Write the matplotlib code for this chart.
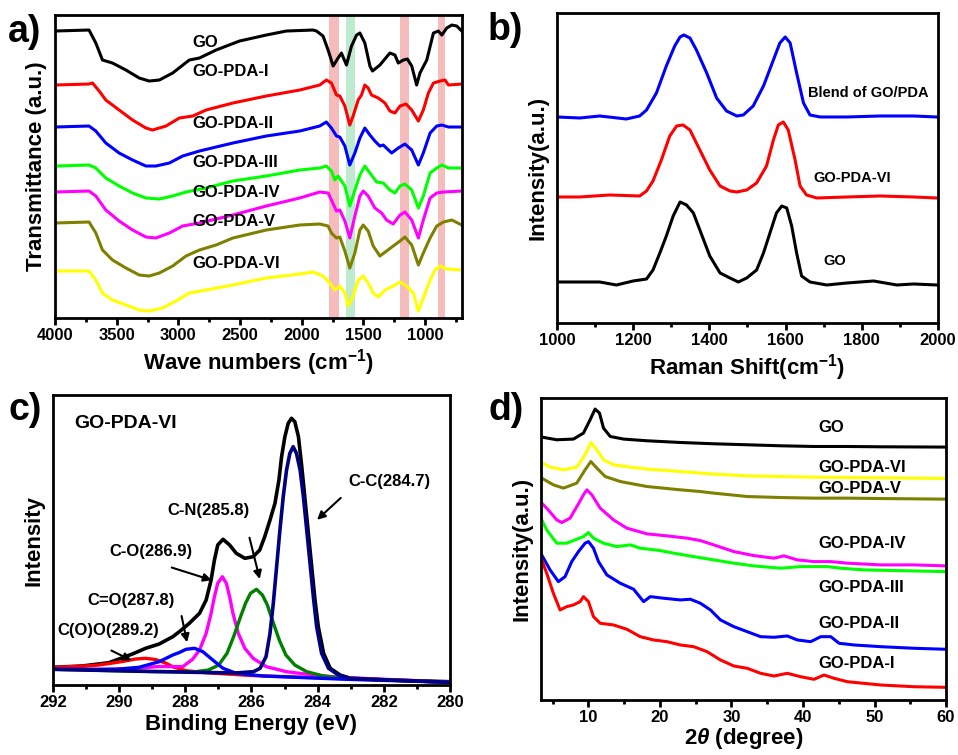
import numpy as np
import matplotlib
matplotlib.use('Agg')
import matplotlib.pyplot as plt
from matplotlib.ticker import MultipleLocator

plt.rcParams['font.family'] = ['Liberation Sans', 'DejaVu Sans']
plt.rcParams['font.weight'] = 'bold'
plt.rcParams['axes.labelweight'] = 'bold'
plt.rcParams['mathtext.fontset'] = 'custom'
plt.rcParams['mathtext.rm'] = 'Liberation Sans:bold'
plt.rcParams['mathtext.bf'] = 'Liberation Sans:bold'
plt.rcParams['mathtext.it'] = 'Liberation Sans:italic:bold'

# ---------------- a) FTIR ----------------
ftir_names = ['GO', 'GO-PDA-I', 'GO-PDA-II', 'GO-PDA-III', 'GO-PDA-IV', 'GO-PDA-V', 'GO-PDA-VI']
ftir_colors = ['black', 'red', 'blue', '#00ff00', '#ff00ff', '#808000', '#ffff00']

ftir_go_x = [4000, 3724, 3669, 3615, 3534, 3425, 3317, 3236, 3154, 3046, 2911, 2829, 2694, 2504, 2287, 2125,
             1908, 1880, 1827, 1786, 1745, 1705, 1678, 1637, 1596, 1555, 1528, 1488, 1447, 1426, 1366, 1285,
             1244, 1217, 1176, 1143, 1108, 1068, 1041, 986, 932, 892, 864, 824, 783, 743, 702]
ftir_go_y = [287, 288, 275, 258, 255, 248, 240, 237, 238, 245, 258, 260, 268, 277, 283, 287,
             288, 287, 282, 268, 252, 260, 265, 253, 272, 283, 285, 275, 252, 247, 253, 265,
             263, 255, 258, 259, 252, 233, 245, 258, 285, 287, 283, 290, 293, 292, 287]

ftir_1_x = [4000, 3724, 3696, 3642, 3588, 3480, 3371, 3263, 3209, 3100, 2992, 2883, 2775, 2558, 2287, 2016,
            1854, 1800, 1759, 1718, 1691, 1650, 1610, 1583, 1542, 1515, 1488, 1461, 1434, 1379, 1325, 1285,
            1244, 1203, 1154, 1108, 1054, 1014, 973, 932, 878, 838, 810, 702]
ftir_1_y = [233, 234, 235, 227, 218, 208, 198, 190, 188, 192, 200, 202, 208, 215, 222, 228,
            233, 238, 235, 223, 222, 212, 193, 202, 218, 223, 233, 230, 223, 220, 215, 207,
            205, 212, 214, 208, 197, 208, 225, 235, 237, 238, 233, 234]

ftir_2_x = [4000, 3724, 3669, 3588, 3480, 3371, 3263, 3182, 3073, 2965, 2829, 2558, 2287, 2016, 1854, 1800,
            1759, 1718, 1691, 1650, 1610, 1569, 1528, 1488, 1447, 1407, 1366, 1339, 1271, 1217, 1163, 1108,
            1054, 1014, 959, 905, 864, 810, 702]
ftir_2_y = [191, 192, 187, 175, 165, 158, 152, 152, 155, 162, 167, 175, 182, 187, 192, 196,
            190, 182, 181, 172, 153, 165, 180, 190, 183, 177, 172, 173, 165, 170, 174, 168,
            153, 165, 185, 192, 193, 191, 191]

ftir_3_x = [4000, 3724, 3669, 3588, 3480, 3371, 3263, 3154, 3046, 2938, 2775, 2558, 2287, 2016, 1854, 1800,
            1759, 1732, 1705, 1650, 1610, 1569, 1528, 1488, 1447, 1393, 1339, 1285, 1244, 1203, 1163, 1108,
            1054, 1014, 959, 905, 864, 810, 702]
ftir_3_y = [152, 153, 150, 140, 132, 125, 120, 119, 122, 126, 130, 137, 142, 148, 150, 152,
            147, 138, 142, 132, 112, 128, 143, 152, 145, 136, 135, 128, 125, 132, 134, 128,
            110, 122, 145, 150, 153, 150, 150]

ftir_4_x = [4000, 3724, 3669, 3588, 3480, 3371, 3263, 3182, 3073, 2965, 2829, 2558, 2287, 2016, 1854, 1786,
            1759, 1718, 1691, 1650, 1610, 1569, 1528, 1501, 1461, 1407, 1352, 1312, 1258, 1203, 1163, 1108,
            1054, 1014, 959, 905, 851, 702]
ftir_4_y = [126, 127, 122, 108, 97, 88, 81, 80, 85, 92, 95, 103, 112, 120, 126, 125,
            118, 107, 108, 97, 80, 102, 122, 127, 122, 110, 105, 98, 94, 103, 106, 98,
            80, 98, 120, 125, 126, 127]

ftir_5_x = [4000, 3724, 3669, 3615, 3534, 3425, 3317, 3236, 3154, 3046, 2938, 2829, 2694, 2558, 2287, 2016,
            1854, 1786, 1759, 1718, 1691, 1650, 1610, 1569, 1528, 1501, 1461, 1420, 1366, 1312, 1258, 1203,
            1163, 1108, 1054, 1014, 959, 905, 851, 783, 702]
ftir_5_y = [95, 96, 85, 68, 58, 50, 43, 42, 45, 52, 62, 68, 73, 80, 88, 93,
            94, 92, 85, 80, 81, 67, 50, 65, 88, 93, 87, 72, 62, 67, 72, 77,
            81, 73, 53, 65, 80, 92, 96, 98, 93]

ftir_6_x = [4000, 4000, 3724, 3669, 3615, 3534, 3425, 3317, 3236, 3127, 3019, 2911, 2775, 2558, 2287, 2016,
            1908, 1827, 1759, 1732, 1691, 1650, 1623, 1583, 1542, 1501, 1461, 1420, 1379, 1325, 1258, 1203,
            1149, 1095, 1054, 1014, 959, 919, 878, 824, 702]
ftir_6_y = [0, 47, 47, 38, 25, 18, 13, 8, 7, 10, 17, 25, 28, 33, 40, 44,
            46, 42, 33, 28, 32, 25, 12, 22, 38, 42, 35, 25, 21, 28, 32, 36,
            32, 25, 7, 20, 38, 48, 52, 49, 48]

ftir_x = [ftir_go_x, ftir_1_x, ftir_2_x, ftir_3_x, ftir_4_x, ftir_5_x, ftir_6_x]
ftir_y = [ftir_go_y, ftir_1_y, ftir_2_y, ftir_3_y, ftir_4_y, ftir_5_y, ftir_6_y]
ftir_label_y = [276, 247, 195, 156, 126, 97, 55]
ftir_red_bands = [(1700, 1778), (1127, 1203), (837, 897)]
ftir_green_band = (1569, 1642)

# ---------------- b) Raman ----------------
raman_names = ['Blend of GO/PDA', 'GO-PDA-VI', 'GO']
raman_colors = ['blue', 'red', 'black']
raman_blend_x = [1000, 1060, 1112, 1182, 1217, 1235, 1261, 1287, 1309, 1323, 1333, 1349, 1366, 1393, 1419, 1445,
                 1472, 1489, 1515, 1542, 1568, 1585, 1599, 1612, 1629, 1647, 1664, 1691, 1761, 1848, 1936, 1997]
raman_blend_y = [206, 205, 207, 204, 207, 213, 230, 257, 277, 286, 288, 285, 273, 250, 225, 212,
                 207, 208, 217, 237, 263, 280, 286, 280, 250, 220, 208, 206, 206, 207, 207, 206]
raman_vi_x = [1000, 1060, 1138, 1217, 1235, 1252, 1274, 1296, 1314, 1331, 1349, 1375, 1401, 1428, 1454, 1472,
              1498, 1524, 1550, 1568, 1581, 1594, 1607, 1625, 1638, 1655, 1682, 1761, 1848, 1936, 1997]
raman_vi_y = [126, 126, 128, 127, 132, 142, 163, 187, 197, 198, 193, 173, 153, 137, 132, 131,
              133, 140, 157, 183, 198, 201, 193, 163, 137, 128, 125, 126, 127, 126, 125]
raman_go_x = [1000, 1060, 1112, 1156, 1200, 1235, 1252, 1270, 1287, 1305, 1323, 1340, 1358, 1375, 1401, 1428,
              1454, 1476, 1498, 1524, 1542, 1559, 1576, 1590, 1603, 1616, 1629, 1642, 1664, 1708, 1761, 1831,
              1892, 1936, 1997]
raman_go_y = [41, 41, 41, 38, 42, 44, 53, 70, 87, 107, 121, 118, 110, 93, 67, 50,
              45, 41, 45, 53, 70, 90, 110, 117, 115, 97, 70, 47, 41, 38, 40, 42,
              38, 39, 38]
raman_x = [raman_blend_x, raman_vi_x, raman_go_x]
raman_y = [raman_blend_y, raman_vi_y, raman_go_y]
raman_label_pos = [(1659, 230), (1672, 145), (1698, 62)]

# ---------------- c) XPS C1s ----------------
xps_env_x = [292, 291.12, 290.31, 289.6, 289.2, 288.79, 288.38, 288.18, 287.88, 287.57, 287.37, 287.22, 287.12,
             287.02, 286.86, 286.66, 286.46, 286.2, 285.95, 285.75, 285.6, 285.44, 285.29, 285.17, 285.09,
             284.99, 284.89, 284.79, 284.69, 284.58, 284.48, 284.38, 284.28, 284.18, 284.08, 283.98, 283.82,
             283.62, 283.32, 283.02, 282.0, 281.0, 280]
xps_env_y = [17.7, 19, 22.3, 31, 36.7, 41, 48.3, 53.3, 61.7, 71.7, 85, 105, 125,
             140, 145.7, 140, 131.7, 126.7, 128.3, 135, 148.3, 165, 181.7, 205, 228.3,
             248.3, 261.7, 266.7, 263.3, 248.3, 218.3, 185, 151.7, 118.3, 85, 58.3, 31.7,
             16.7, 10, 6.7, 5.3, 4.2, 3.3]
xps_cc_x = [292, 289, 286.5, 285.94, 285.74, 285.56, 285.44, 285.34, 285.24, 285.14, 285.04, 284.94, 284.84,
            284.74, 284.64, 284.53, 284.43, 284.33, 284.23, 284.13, 284.03, 283.88, 283.67, 283.37, 283.02,
            282.0, 281.0, 280]
xps_cc_y = [15.7, 13.5, 12, 13.3, 16.7, 28.3, 51.7, 81.7, 118.3, 155, 188.3, 215, 231.7,
            238.3, 231.7, 215, 188.3, 155, 121.7, 88.3, 58.3, 31.7, 16.7, 10, 6.7,
            5.2, 4.0, 2.7]
xps_cn_x = [292, 289, 287.7, 287.3, 286.99, 286.74, 286.54, 286.33, 286.18, 286.03, 285.85, 285.67, 285.52,
            285.37, 285.16, 284.96, 284.69, 284.33, 283.82, 283.22, 280]
xps_cn_y = [15.7, 13.5, 13.3, 15, 20, 31.7, 48.3, 68.3, 81.7, 91.7, 95.7, 90, 80,
            65, 45, 30, 20, 13.3, 9, 6.7, 2.7]
xps_co_x = [292, 290.6, 289.6, 288.79, 288.08, 287.78, 287.57, 287.37, 287.22, 287.12, 287.02, 286.88, 286.76,
            286.66, 286.56, 286.4, 286.2, 285.95, 285.55, 284.94, 284.13, 283.32, 280]
xps_co_y = [15.7, 15.5, 16.5, 18.5, 18.3, 25.7, 35, 51.7, 71.7, 88.3, 101.7, 108.3, 101.7,
            88.3, 71.7, 51.7, 36.7, 26.7, 18.3, 13.3, 10, 7.7, 2.7]
xps_c_o_x = [292, 290.1, 289.4, 288.79, 288.38, 288.18, 287.98, 287.72, 287.47, 287.17, 286.86, 286.46, 285.65,
             283.12, 280]
xps_c_o_y = [15.7, 15.7, 17.7, 23.3, 30, 32.5, 35.7, 36.7, 33.3, 25, 16.7, 11.7, 9,
             5.7, 2.7]
xps_coo_x = [292, 291.3, 290.61, 290.2, 289.9, 289.5, 289.2, 288.9, 288.6, 288.38, 287.98, 287.37, 286.0, 280]
xps_coo_y = [17.7, 18.5, 20, 22, 23.5, 26, 26.7, 25.5, 22, 18.3, 14.3, 12.3, 9.5, 2.7]

xps_labels = ['C-C(284.7)', 'C-N(285.8)', 'C-O(286.9)', 'C=O(287.8)', 'C(O)O(289.2)']
xps_label_pos = [(283.07, 203.3), (288.54, 175), (290.31, 133.3), (290.97, 85), (291.88, 55)]
xps_arrow_from = [(283.24, 189), (286.08, 150), (288.49, 118.3), (288.13, 71.7), (290.31, 35.7)]
xps_arrow_to = [(284.08, 163.3), (285.73, 103.3), (287.12, 104), (287.93, 40), (289.55, 23.3)]

# ---------------- d) XRD ----------------
xrd_names = ['GO', 'GO-PDA-VI', 'GO-PDA-V', 'GO-PDA-IV', 'GO-PDA-III', 'GO-PDA-II', 'GO-PDA-I']
xrd_colors = ['black', '#ffff00', '#808000', '#ff00ff', '#00ff00', 'blue', 'red']
xrd_go_x = [3.46, 5.56, 7.9, 9.3, 10.23, 10.93, 11.54, 12.1, 13.04, 14.91, 18.18, 22.85, 27.52, 32.2, 36.87,
            41.54, 46.22, 50.89, 60]
xrd_go_y = [262.7, 260, 260.7, 266.7, 280, 290.7, 286.7, 271.7, 263.3, 260.7, 259, 257.3, 256, 255, 254,
            253.3, 253.3, 253, 252.7]
xrd_6_x = [3.46, 4.63, 6.5, 8.36, 9.53, 10.37, 11.17, 12.1, 13.5, 15.84, 18.18, 22.85, 27.52, 32.2, 36.87,
           41.54, 46.22, 50.89, 60]
xrd_6_y = [237.3, 232.7, 230, 232.7, 245, 257.3, 250, 240, 235, 232.7, 230.7, 228.3, 225.7, 224, 223.3,
           222.7, 222.3, 222, 221.3]
xrd_5_x = [3.46, 5.09, 6.5, 8.36, 9.53, 10.33, 11.17, 12.34, 14.44, 18.18, 22.85, 25.65, 27.52, 32.2, 36.87,
           41.54, 46.22, 50.89, 60]
xrd_5_y = [221.7, 215, 211.7, 216.7, 230, 238.3, 231.7, 223.3, 218.3, 213.3, 210, 208.3, 206.7, 203.3, 202.3,
           201.7, 201.7, 201.3, 200.7]
xrd_4_x = [3.46, 4.16, 5.56, 6.26, 7.43, 8.6, 9.3, 9.77, 10.47, 11.64, 13.5, 15.37, 18.18, 20.98, 23.79,
           25.65, 27.52, 30.33, 33.13, 35.94, 37.34, 39.21, 41.54, 43.88, 46.22, 50.89, 55.56, 60]
xrd_4_y = [196.7, 191.7, 180, 177.3, 181.7, 196, 205, 210, 205, 191.7, 180, 171.7, 166, 164, 161.7,
           159.3, 155, 148.3, 144.3, 141.7, 144, 140, 138.3, 138.3, 136.7, 135, 135, 134]
xrd_3_x = [3.46, 4.16, 5.56, 6.96, 8.36, 9.3, 10, 10.7, 12.1, 13.97, 15.84, 17.24, 20.05, 21.92, 24.72,
           27.52, 30.33, 33.13, 36.87, 39.67, 43.41, 45.28, 48.55, 53.22, 60]
xrd_3_y = [180, 170, 156.7, 156.7, 160.7, 163.3, 167.3, 161.7, 156.7, 153.3, 155, 151.7, 149.3, 146.7, 143.3,
           140, 136.7, 134, 131.7, 133.3, 133.3, 131.7, 130, 129.3, 128.3]
xrd_2_x = [3.46, 4.63, 5.79, 6.73, 7.66, 8.6, 9.53, 10, 10.7, 11.4, 12.57, 14.44, 16.31, 17.71, 18.65,
           20.51, 22.85, 24.25, 25.65, 27.06, 28.46, 30.33, 32.2, 34.07, 35.94, 37.8, 39.21, 41.07, 42.48,
           43.88, 45.05, 47.15, 50.89, 55.56, 60]
xrd_2_y = [145, 130, 118.3, 123.3, 138.3, 148.3, 156.7, 158.3, 151.7, 138.3, 125, 116.7, 110.7, 98.3, 103.3,
           101.7, 100, 100.7, 96.7, 90, 80, 73.3, 68.3, 63.3, 62.7, 64, 60, 58.3, 63.3,
           63.3, 56.7, 55, 53.3, 51.7, 50.7]
xrd_1_x = [3.46, 4.16, 5.09, 6.03, 6.96, 7.9, 8.83, 9.3, 10, 10.7, 11.64, 13.5, 15.37, 17.24, 19.11,
           20.98, 22.85, 24.72, 26.59, 28.46, 30.33, 32.2, 34.07, 35.94, 37.8, 39.67, 41.54, 42.94, 44.35,
           46.22, 50.89, 55.56, 60]
xrd_1_y = [140, 126.7, 106.7, 90, 93.3, 95, 98.3, 103.3, 98.3, 83.3, 76.7, 75, 70.7, 63.3, 60,
           58.3, 55, 53.3, 48.3, 40, 34, 31.7, 26.7, 24, 26.7, 23.3, 20.7, 25, 21.7,
           18.3, 15, 13.3, 12.7]
xrd_x = [xrd_go_x, xrd_6_x, xrd_5_x, xrd_4_x, xrd_3_x, xrd_2_x, xrd_1_x]
xrd_y = [xrd_go_y, xrd_6_y, xrd_5_y, xrd_4_y, xrd_3_y, xrd_2_y, xrd_1_y]
xrd_label_y = [272.3, 232.7, 211.7, 156.7, 112.7, 76, 36.7]


def style_axes(ax):
    for s in ax.spines.values():
        s.set_linewidth(2)
    ax.set_yticks([])
    ax.tick_params(axis='x', which='major', direction='out', length=5, width=2, labelsize=12, pad=2)
    ax.tick_params(axis='x', which='minor', direction='out', length=3, width=2)


fig = plt.figure(figsize=(9.58, 7.55), dpi=100)

# a)
ax = fig.add_axes([0.0574, 0.5788, 0.4249, 0.4013])
ax.axvspan(*ftir_red_bands[0], color='#f4a6a6', alpha=0.75, lw=0, zorder=0)
ax.axvspan(*ftir_green_band, color='#a8e4c0', alpha=0.75, lw=0, zorder=0)
for band in ftir_red_bands[1:]:
    ax.axvspan(*band, color='#f4a6a6', alpha=0.75, lw=0, zorder=0)
for xs, ys, c in zip(ftir_x, ftir_y, ftir_colors):
    ax.plot(xs, ys, color=c, lw=2.2, solid_joinstyle='round', zorder=2)
for name, ly in zip(ftir_names, ftir_label_y):
    ax.text(2886, ly, name, fontsize=12, fontweight='bold', va='center', ha='left', zorder=3)
ax.set_xlim(4000, 700)
ax.set_ylim(0, 303)
ax.xaxis.set_major_locator(MultipleLocator(500))
ax.xaxis.set_minor_locator(MultipleLocator(250))
style_axes(ax)
ax.set_xlabel('Wave numbers (cm$^{-1}$)', fontsize=16, labelpad=3)
ax.set_ylabel('Transmittance (a.u.)', fontsize=16, labelpad=6)

# b)
ax = fig.add_axes([0.5814, 0.5722, 0.3977, 0.4106])
for xs, ys, c in zip(raman_x, raman_y, raman_colors):
    ax.plot(xs, ys, color=c, lw=2.2, solid_joinstyle='round')
for name, (lx, ly) in zip(raman_names, raman_label_pos):
    ax.text(lx, ly, name, fontsize=10.5, fontweight='bold', va='center', ha='left')
ax.set_xlim(1000, 2000)
ax.set_ylim(0, 310)
ax.xaxis.set_major_locator(MultipleLocator(200))
ax.xaxis.set_minor_locator(MultipleLocator(100))
style_axes(ax)
ax.set_xlabel('Raman Shift(cm$^{-1}$)', fontsize=16, labelpad=3)
ax.set_ylabel('Intensity(a.u.)', fontsize=16, labelpad=6)

# c)
ax = fig.add_axes([0.0553, 0.0927, 0.4144, 0.3841])
ax.plot(xps_env_x, xps_env_y, color='black', lw=2.6, solid_joinstyle='round')
ax.plot(xps_coo_x, xps_coo_y, color='red', lw=2.4, solid_joinstyle='round')
ax.plot(xps_co_x, xps_co_y, color='#ff00ff', lw=2.4, solid_joinstyle='round')
ax.plot(xps_cn_x, xps_cn_y, color='green', lw=2.4, solid_joinstyle='round')
ax.plot(xps_c_o_x, xps_c_o_y, color='blue', lw=2.4, solid_joinstyle='round')
ax.plot(xps_cc_x, xps_cc_y, color='#000080', lw=2.6, solid_joinstyle='round')
ax.text(291.37, 261.7, 'GO-PDA-VI', fontsize=14, fontweight='bold', va='center', ha='left')
for name, (lx, ly), p0, p1 in zip(xps_labels, xps_label_pos, xps_arrow_from, xps_arrow_to):
    ax.text(lx, ly, name, fontsize=12, fontweight='bold', va='center', ha='left')
    ax.annotate('', xy=p1, xytext=p0,
                arrowprops=dict(arrowstyle='-|>', color='black', lw=1.5, mutation_scale=12))
ax.set_xlim(292, 280)
ax.set_ylim(0, 290)
ax.xaxis.set_major_locator(MultipleLocator(2))
ax.xaxis.set_minor_locator(MultipleLocator(1))
style_axes(ax)
ax.set_xlabel('Binding Energy (eV)', fontsize=16, labelpad=3)
ax.set_ylabel('Intensity', fontsize=16, labelpad=6)

# d)
ax = fig.add_axes([0.5647, 0.0728, 0.4228, 0.4000])
for xs, ys, c in zip(xrd_x, xrd_y, xrd_colors):
    ax.plot(xs, ys, color=c, lw=2.2, solid_joinstyle='round')
for name, ly in zip(xrd_names, xrd_label_y):
    ax.text(42.2, ly, name, fontsize=12, fontweight='bold', va='center', ha='left')
ax.set_xlim(3.36, 60)
ax.set_ylim(0, 301.7)
ax.xaxis.set_major_locator(MultipleLocator(10))
ax.xaxis.set_minor_locator(MultipleLocator(5))
style_axes(ax)
ax.set_xlabel('2$\\theta$ (degree)', fontsize=16, labelpad=1)
ax.set_ylabel('Intensity(a.u.)', fontsize=16, labelpad=6)

for letter, (fx, fy) in zip(['a)', 'b)', 'c)', 'd)'], [(8, 14), (488, 12), (8, 392), (488, 392)]):
    fig.text(fx / 958, 1 - fy / 755, letter, fontsize=27, fontweight='bold', va='top', ha='left')

fig.savefig('out.png', dpi=100)
